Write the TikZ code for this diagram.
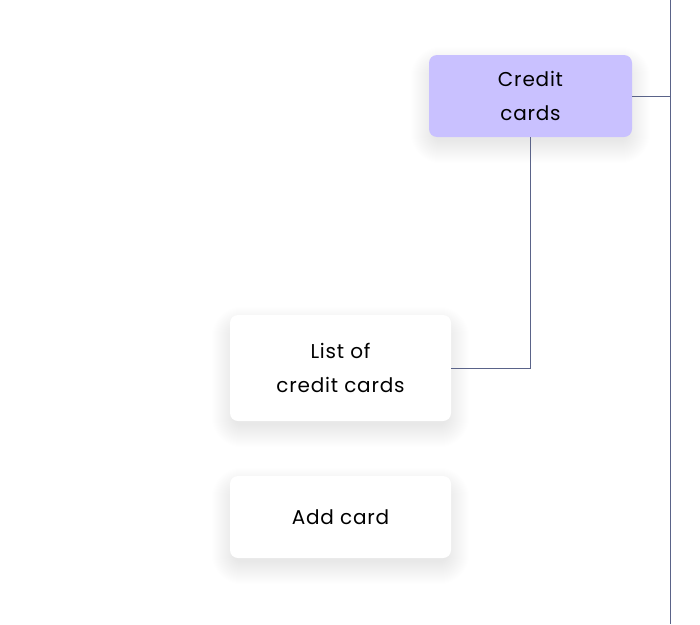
\documentclass[tikz,border=0pt]{standalone}
\usepackage{fontspec}
\setmainfont{Poppins}[LetterSpace=4]
\usetikzlibrary{calc,backgrounds}
\definecolor{linec}{HTML}{5A6389}
\definecolor{lav}{HTML}{C9C1FF}
\tikzset{
  card/.style={rounded corners=8pt, inner sep=0pt, align=center, font=\fontsize{20}{34}\selectfont},
  wire/.style={draw=linec, line width=0.9pt},
  shadowlayer/.style={fill=black, fill opacity=0.0055}
}
\newcommand{\mysoftshadow}[1]{%
  \foreach \i in {0,...,22}{%
    \pgfmathsetmacro{\rr}{8+\i}%
    \fill[shadowlayer, rounded corners=\rr pt]
      ($(#1.north west)+(-\i+4,-\i+14)$) rectangle ($(#1.south east)+(\i-4,\i+4)$);
  }%
}
\begin{document}
\begin{tikzpicture}[x=1pt,y=-1pt]
\useasboundingbox (0,0) rectangle (700,624);
\coordinate (top) at (670,0);
\coordinate (bot) at (670,624);
\node[card, fill=lav, minimum width=203pt, minimum height=82pt] (cc) at (530.5,96) {Credit\\cards};
\node[card, fill=white, minimum width=221pt, minimum height=106pt] (list) at (340.5,368) {List of\\credit cards};
\node[card, fill=white, minimum width=221pt, minimum height=82pt] (add) at (340.5,517) {Add card};
\begin{scope}[on background layer]
  \fill[white] (0,0) rectangle (700,624);
  \mysoftshadow{cc}
  \mysoftshadow{list}
  \mysoftshadow{add}
\end{scope}
\draw[wire] (top) -- (bot);
\draw[wire] (cc.east) -- (cc.east -| top);
\draw[wire] (cc.south) |- (list.east);
\end{tikzpicture}
\end{document}
